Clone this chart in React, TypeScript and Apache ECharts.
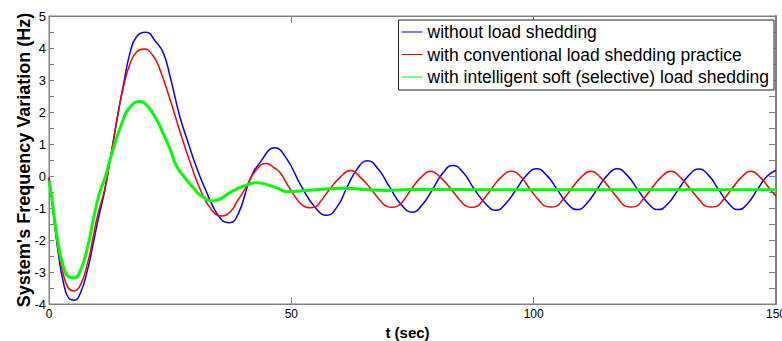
import React, { useEffect, useRef } from "react";
import * as echarts from "echarts";

// ---- Data ----
const seriesNames = [
  "without load shedding",
  "with conventional load shedding practice",
  "with intelligent soft (selective) load shedding",
];

const tBlue = [0, 0.5, 1, 2, 3, 4, 5.2, 6.5, 8, 9, 10.3, 11.55, 13, 14.3, 15.3, 16.7, 18.1, 20, 22, 23.6, 25, 27, 28.7, 30, 31.5, 32.5, 33.5, 35.5, 37.2, 39, 41.5, 43.5, 46.6, 49, 52, 55, 57.3, 59.5, 61.5, 63.5, 65.7, 68, 70.3, 72.7, 75, 77, 79.2, 81.3, 83.3, 85.5, 87.7, 90, 92.2, 94.3, 96.4, 98.5, 100.6, 102.7, 104.8, 106.9, 109, 111, 113.1, 115.2, 117.2, 119.3, 121.4, 123.6, 125.7, 127.8, 129.9, 132, 134.1, 136.1, 138.1, 140.2, 142.2, 144.2, 146.2, 148.2, 150];
const vBlue = [-0.05, -0.6, -1.3, -2.5, -3.35, -3.8, -3.88, -3.65, -2.9, -2.2, -1.25, -0.42, 0.85, 2.0, 2.8, 3.84, 4.36, 4.49, 4.2, 3.84, 3.1, 1.85, 1.05, 0.45, -0.15, -0.5, -0.85, -1.35, -1.46, -1.2, -0.1, 0.41, 0.88, 0.55, -0.3, -1.0, -1.23, -0.95, -0.35, 0.2, 0.48, 0.2, -0.35, -0.9, -1.13, -0.9, -0.4, 0.1, 0.33, 0.1, -0.4, -0.85, -1.07, -0.85, -0.42, 0.02, 0.23, 0.02, -0.41, -0.85, -1.05, -0.85, -0.41, 0.02, 0.23, 0.02, -0.41, -0.85, -1.05, -0.85, -0.41, 0.02, 0.22, 0.02, -0.41, -0.85, -1.05, -0.85, -0.41, 0.0, 0.18];

const tRed = [0, 0.5, 1, 2, 3, 4, 5.1, 6.5, 8, 9, 10, 11.5, 13, 14.3, 15.3, 16.7, 18.1, 19.6, 21.5, 22.9, 25, 27, 29.3, 31.2, 33.5, 35.6, 37.5, 39, 40.4, 42.8, 44.8, 46.5, 47.7, 49.3, 51.5, 52.8, 53.8, 55, 56, 58, 60, 62.2, 64.3, 66.4, 68.5, 69.7, 70.7, 71.8, 73, 74.7, 76.7, 78.7, 80.8, 83, 85, 86.2, 87.2, 88.3, 89.3, 91.2, 93.2, 95.3, 97.2, 99.3, 101.3, 102.5, 103.5, 104.6, 105.7, 107.7, 109.7, 111.8, 113.8, 115.9, 117.9, 119, 120, 121.1, 122.2, 124.2, 126.2, 128.3, 130.3, 132.4, 134.5, 135.6, 136.7, 137.7, 138.8, 140.8, 142.8, 144.8, 146.8, 148.8, 150];
const vRed = [-0.05, -0.6, -1.3, -2.4, -3.1, -3.5, -3.59, -3.4, -2.7, -2.0, -1.25, -0.4, 0.85, 2.0, 2.75, 3.5, 3.88, 3.97, 3.75, 3.32, 2.38, 1.4, 0.35, -0.42, -1.05, -1.25, -1.1, -0.75, -0.42, 0.2, 0.39, 0.25, 0.1, -0.3, -0.8, -0.96, -0.99, -0.96, -0.8, -0.4, -0.05, 0.17, -0.05, -0.4, -0.8, -0.95, -0.98, -0.95, -0.8, -0.42, -0.05, 0.15, -0.05, -0.42, -0.8, -0.95, -0.98, -0.95, -0.8, -0.42, -0.05, 0.15, 0.0, -0.42, -0.8, -0.95, -0.97, -0.95, -0.8, -0.42, -0.05, 0.15, -0.05, -0.42, -0.8, -0.95, -0.97, -0.95, -0.8, -0.42, -0.05, 0.15, -0.05, -0.42, -0.8, -0.95, -0.97, -0.95, -0.8, -0.42, -0.05, 0.15, -0.05, -0.42, -0.63];

const tGreen = [0, 0.5, 1, 2, 3, 4, 5.2, 6.5, 8, 9.3, 10.5, 11.7, 12.6, 15.3, 17, 18.8, 20.5, 22.2, 22.9, 25, 26.3, 28, 29.8, 31.2, 33.9, 35.5, 37.3, 40.1, 42.8, 45.6, 47.7, 49, 52, 55, 58, 60.7, 65, 70, 75, 80, 90, 100, 110, 120, 130, 140, 150];
const vGreen = [-0.16, -0.6, -1.2, -2.2, -2.85, -3.15, -3.19, -2.95, -2.2, -1.25, -0.5, 0.0, 0.51, 1.76, 2.2, 2.33, 2.15, 1.76, 1.55, 0.83, 0.31, -0.05, -0.37, -0.6, -0.78, -0.7, -0.52, -0.32, -0.21, -0.3, -0.42, -0.49, -0.47, -0.43, -0.4, -0.38, -0.42, -0.45, -0.42, -0.42, -0.43, -0.43, -0.43, -0.43, -0.43, -0.43, -0.43];

const xTicks = { min: 0, max: 150, interval: 50 };
const yTicks = { min: -4, max: 5, interval: 0.5 };

const colors = ["#0000ff", "#ff0000", "#00ff00"];

const pairs = (t: number[], v: number[]) => t.map((x, i) => [x, v[i]]);

export default function App() {
  const ref = useRef<HTMLDivElement>(null);
  useEffect(() => {
    document.body.style.margin = "0";
    const chart = echarts.init(ref.current!, null, { renderer: "svg" });
    const axisGray = "#808080";
    const font = "Liberation Sans, Arial, sans-serif";
    chart.setOption({
      animation: false,
      backgroundColor: "#ffffff",
      textStyle: { fontFamily: font },
      grid: {
        left: 49,
        right: 6,
        top: 16,
        bottom: 37,
        show: true,
        borderColor: axisGray,
        borderWidth: 1,
        containLabel: false,
        outerBoundsMode: "none",
      },
      legend: {
        orient: "vertical",
        right: 8,
        top: 20,
        backgroundColor: "#ffffff",
        borderColor: "#222222",
        borderWidth: 1,
        padding: [3, 5, 4, 3],
        itemGap: 4.5,
        itemWidth: 21,
        itemHeight: 1,
        icon: "rect",
        borderRadius: 0,
        textStyle: { fontSize: 17.5, color: "#000", fontFamily: font },
        data: seriesNames,
      },
      xAxis: [
        {
          type: "value",
          ...xTicks,
          position: "bottom",
          name: "t (sec)",
          nameLocation: "middle",
          nameGap: 21,
          nameMoveOverlap: false,
          nameTextStyle: { fontSize: 15, fontWeight: "bold", color: "#000", fontFamily: font, padding: [0, 10, 0, 0] },
          axisLine: { show: true, onZero: false, lineStyle: { color: axisGray } },
          axisTick: { show: true, inside: true, length: 7, lineStyle: { color: axisGray } },
          axisLabel: { fontSize: 12, color: "#000", margin: 4, fontFamily: font },
          splitLine: { show: false },
        },
        {
          type: "value",
          ...xTicks,
          position: "top",
          axisLine: { show: true, onZero: false, lineStyle: { color: axisGray } },
          axisTick: { show: true, inside: true, length: 7, lineStyle: { color: axisGray } },
          axisLabel: { show: false },
          splitLine: { show: false },
        },
      ],
      yAxis: [
        {
          type: "value",
          ...yTicks,
          position: "left",
          name: "System's Frequency Variation (Hz)",
          nameLocation: "middle",
          nameGap: 16,
          nameMoveOverlap: false,
          nameRotate: 90,
          nameTextStyle: { fontSize: 18, fontWeight: "bold", color: "#000", fontFamily: font },
          axisLine: { show: true, onZero: false, lineStyle: { color: axisGray } },
          axisTick: { show: true, inside: true, length: 5, lineStyle: { color: axisGray } },
          axisLabel: {
            fontSize: 13,
            color: "#000",
            margin: 3,
            fontFamily: font,
            formatter: (v: number) => (Number.isInteger(v) ? String(v) : ""),
          },
          splitLine: { show: false },
        },
        {
          type: "value",
          ...yTicks,
          position: "right",
          axisLine: { show: true, onZero: false, lineStyle: { color: axisGray, width: 2 } },
          axisTick: { show: true, inside: true, length: 7, lineStyle: { color: axisGray } },
          axisLabel: { show: false },
          splitLine: { show: false },
        },
      ],
      series: [
        {
          name: seriesNames[0],
          type: "line",
          data: pairs(tBlue, vBlue),
          showSymbol: false,
          smooth: 0.5,
          lineStyle: { color: colors[0], width: 1.5 },
          itemStyle: { color: colors[0] },
        },
        {
          name: seriesNames[1],
          type: "line",
          data: pairs(tRed, vRed),
          showSymbol: false,
          smooth: 0.5,
          lineStyle: { color: colors[1], width: 1.5 },
          itemStyle: { color: colors[1] },
        },
        {
          name: seriesNames[2],
          type: "line",
          data: pairs(tGreen, vGreen),
          showSymbol: false,
          smooth: 0.5,
          lineStyle: { color: colors[2], width: 3 },
          itemStyle: { color: colors[2] },
        },
      ],
    });
    return () => chart.dispose();
  }, []);
  return <div ref={ref} style={{ position: "fixed", left: 0, top: 0, width: 782, height: 341 }} />;
}
